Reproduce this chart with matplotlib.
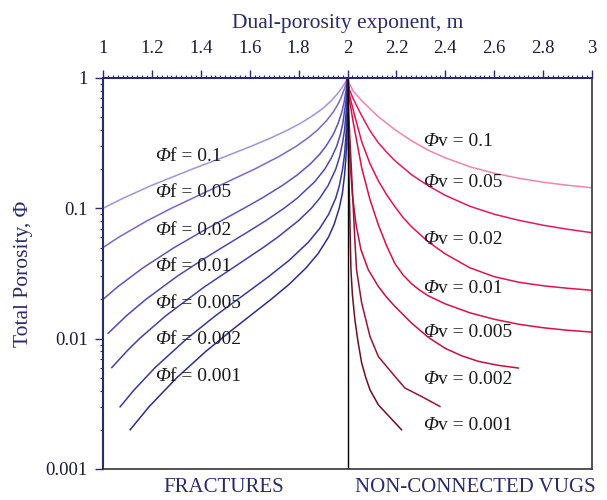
import matplotlib
matplotlib.use("Agg")
import matplotlib.pyplot as plt
from matplotlib.ticker import MultipleLocator, LogLocator, FixedLocator, FixedFormatter, NullFormatter
from matplotlib.transforms import offset_copy

plt.rcParams['font.family'] = ['Liberation Serif', 'DejaVu Serif']

# ------------------------------------------------------------------
# Data: (m, total porosity) along each curve
# ------------------------------------------------------------------
frac_labels = ["0.1", "0.05", "0.02", "0.01", "0.005", "0.002", "0.001"]
vug_labels = ["0.1", "0.05", "0.02", "0.01", "0.005", "0.002", "0.001"]

frac_m = [
    [1.0, 1.084, 1.199, 1.365, 1.50, 1.607, 1.691, 1.757, 1.808, 1.848, 1.880, 1.906,
     1.934, 1.957, 1.973, 1.987, 2.0],
    [1.0, 1.064, 1.179, 1.279, 1.478, 1.620, 1.720, 1.791, 1.841, 1.878, 1.914, 1.942,
     1.959, 1.973, 1.990, 2.0],
    [1.0, 1.060, 1.164, 1.291, 1.426, 1.576, 1.651, 1.734, 1.794, 1.849, 1.886, 1.912,
     1.942, 1.962, 1.977, 1.986, 1.996, 2.0],
    [1.021, 1.096, 1.175, 1.302, 1.404, 1.487, 1.587, 1.664, 1.740, 1.795, 1.866, 1.907,
     1.932, 1.956, 1.971, 1.981, 1.993, 2.0],
    [1.036, 1.097, 1.149, 1.257, 1.415, 1.578, 1.655, 1.714, 1.798, 1.852, 1.887, 1.921,
     1.952, 1.968, 1.980, 1.988, 1.996, 2.0],
    [1.070, 1.125, 1.213, 1.343, 1.460, 1.621, 1.678, 1.762, 1.840, 1.886, 1.923, 1.952,
     1.967, 1.980, 1.988, 1.993, 1.996, 1.998, 2.0],
    [1.111, 1.188, 1.301, 1.421, 1.536, 1.687, 1.760, 1.831, 1.880, 1.922, 1.945, 1.966,
     1.979, 1.988, 1.993, 1.996, 1.999, 2.0],
]
frac_phi = [
    [0.1, 0.12, 0.15, 0.2, 0.25, 0.3, 0.35, 0.4, 0.45, 0.5, 0.55, 0.6,
     0.67, 0.75, 0.82, 0.9, 1.0],
    [0.05, 0.06, 0.08, 0.1, 0.15, 0.2, 0.25, 0.3, 0.35, 0.4, 0.47, 0.55,
     0.62, 0.7, 0.85, 1.0],
    [0.02, 0.025, 0.035, 0.05, 0.07, 0.1, 0.12, 0.15, 0.18, 0.22, 0.26, 0.3,
     0.37, 0.45, 0.55, 0.65, 0.85, 1.0],
    [0.011, 0.015, 0.02, 0.03, 0.04, 0.05, 0.065, 0.08, 0.1, 0.12, 0.16, 0.2,
     0.24, 0.3, 0.37, 0.45, 0.65, 1.0],
    [0.006, 0.008, 0.01, 0.015, 0.025, 0.04, 0.05, 0.06, 0.08, 0.1, 0.12, 0.15,
     0.2, 0.25, 0.32, 0.4, 0.6, 1.0],
    [0.003, 0.004, 0.006, 0.01, 0.015, 0.025, 0.03, 0.04, 0.055, 0.07, 0.09, 0.12,
     0.15, 0.2, 0.26, 0.35, 0.45, 0.6, 1.0],
    [0.002, 0.003, 0.005, 0.008, 0.012, 0.02, 0.026, 0.035, 0.045, 0.06, 0.075, 0.1,
     0.13, 0.18, 0.24, 0.3, 0.5, 1.0],
]

vug_m = [
    [2.0, 2.008, 2.023, 2.058, 2.126, 2.194, 2.262, 2.330, 2.399, 2.5, 2.6, 2.7,
     2.8, 2.9, 3.0],
    [2.0, 2.008, 2.023, 2.058, 2.092, 2.126, 2.16, 2.194, 2.262, 2.330, 2.399, 2.5,
     2.6, 2.7, 2.8, 2.9, 3.0],
    [2.0, 2.008, 2.023, 2.058, 2.092, 2.126, 2.16, 2.194, 2.228, 2.262, 2.330, 2.399,
     2.5, 2.6, 2.7, 2.8, 2.9, 3.0],
    [2.0, 2.008, 2.023, 2.058, 2.092, 2.126, 2.16, 2.194, 2.228, 2.262, 2.296, 2.330,
     2.399, 2.5, 2.6, 2.7, 2.8, 2.9, 3.0],
    [2.0, 2.004, 2.010, 2.020, 2.035, 2.055, 2.085, 2.126, 2.16, 2.194, 2.262, 2.330,
     2.399, 2.467, 2.535, 2.615, 2.699],
    [2.0, 2.006, 2.018, 2.030, 2.037, 2.058, 2.092, 2.126, 2.194, 2.235, 2.303, 2.378],
    [2.0, 2.002, 2.008, 2.014, 2.020, 2.030, 2.043, 2.058, 2.075, 2.092, 2.126, 2.221],
]
vug_phi = [
    [1.0, 0.904, 0.795, 0.6695, 0.5047, 0.4012, 0.3302, 0.2792, 0.2445, 0.2086, 0.1859,
     0.1702, 0.1586, 0.1504, 0.1439],
    [1.0, 0.813, 0.6937, 0.5137, 0.394, 0.3187, 0.2695, 0.2319, 0.1811, 0.1491, 0.126,
     0.1038, 0.0901, 0.081, 0.0742, 0.0691, 0.065],
    [1.0, 0.7443, 0.571, 0.3245, 0.2199, 0.1628, 0.1272, 0.1029, 0.0847, 0.0722, 0.0554,
     0.0448, 0.035, 0.0299, 0.0271, 0.02547, 0.02436, 0.02351],
    [1.0, 0.6817, 0.462, 0.2049, 0.1164, 0.0748, 0.0516, 0.0376, 0.0307, 0.02638, 0.0235,
     0.02134, 0.01852, 0.0158, 0.01409, 0.0129, 0.01213, 0.0116, 0.01123],
    [1.0, 0.4381, 0.236, 0.1272, 0.0748, 0.0481, 0.0338, 0.02516, 0.02078, 0.01767, 0.01317,
     0.01025, 0.00844, 0.00739, 0.0067, 0.00625, 0.00595],
    [1.0, 0.4786, 0.1658, 0.0574, 0.0338, 0.01876, 0.0104, 0.0073, 0.00513, 0.00418, 0.0036,
     0.00302],
    [1.0, 0.401, 0.1164, 0.0338, 0.02187, 0.01406, 0.00947, 0.0065, 0.00501, 0.00405, 0.00311,
     0.0020],
]

frac_colors = ["#a193e2", "#7868d0", "#5d54c0", "#4e49b2", "#4440a6", "#39379a", "#2f2d8c"]
vug_colors = ["#f384ac", "#e8185c", "#e31350", "#dc0f48", "#c4103f", "#981433", "#6c0f22"]

navy = "#2b2a6b"

fig = plt.figure(figsize=(6.07, 5.0), dpi=100)
ax = fig.add_axes([103 / 607, 31 / 500, 489 / 607, 391 / 500])

for m, p, c in zip(frac_m, frac_phi, frac_colors):
    ax.plot(m, p, color=c, lw=1.1)
for m, p, c in zip(vug_m, vug_phi, vug_colors):
    ax.plot(m, p, color=c, lw=1.1)

ax.axvline(2.0, color="black", lw=1.0)

ax.set_yscale("log")
ax.set_xlim(1, 3)
ax.set_ylim(0.001, 1)

# top x axis
ax.xaxis.tick_top()
ax.xaxis.set_label_position("top")
ax.xaxis.set_major_locator(MultipleLocator(0.2))
ax.xaxis.set_minor_locator(MultipleLocator(0.02))
ax.xaxis.set_major_formatter(plt.FuncFormatter(lambda v, pos: f"{v:g}"))
ax.set_xlabel("Dual-porosity exponent, m", fontsize=15.5, color=navy, labelpad=9)

ax.yaxis.set_major_locator(FixedLocator([0.001, 0.01, 0.1, 1]))
ax.yaxis.set_major_formatter(FixedFormatter(["0.001", "0.01", "0.1", "1"]))
ax.yaxis.set_minor_locator(LogLocator(base=10, subs=range(2, 10)))
ax.yaxis.set_minor_formatter(NullFormatter())
ax.set_ylabel("Total Porosity, Φ", fontsize=15.5, color=navy, labelpad=9)

ax.tick_params(axis="both", which="major", direction="out", length=6, width=1.0,
               color=navy, labelsize=13.5, labelcolor="#1c1c3a")
ax.tick_params(axis="x", which="major", pad=9)
ax.tick_params(axis="y", which="major", pad=5)
ax.tick_params(axis="both", which="minor", direction="out", length=2.5, width=0.8, color=navy)

for side in ["left", "top"]:
    ax.spines[side].set_color(navy)
    ax.spines[side].set_linewidth(1.5)
for side in ["right", "bottom"]:
    ax.spines[side].set_color("#333333")
    ax.spines[side].set_linewidth(1.2)

# curve labels: italic Phi followed by upright text
renderer = fig.canvas.get_renderer()


def phi_label(x, y, rest):
    t = ax.text(x, y, "Φ", transform=ax.transAxes, fontsize=14, style="italic",
                va="center", ha="left", color="#1a1a1a")
    w = t.get_window_extent(renderer).width
    tr = offset_copy(ax.transAxes, fig=fig, x=w, y=0, units="dots")
    ax.text(x, y, rest, transform=tr, fontsize=14, va="center", ha="left", color="#1a1a1a")


frac_y = [0.798, 0.706, 0.610, 0.518, 0.424, 0.330, 0.236]
vug_y = [0.838, 0.733, 0.586, 0.4625, 0.349, 0.2296, 0.1108]
for lab, yy in zip(frac_labels, frac_y):
    phi_label(0.106, yy, f"f = {lab}")
for lab, yy in zip(vug_labels, vug_y):
    phi_label(0.655, yy, f"v = {lab}")

fig.text(224 / 607, 1 - 487 / 500, "FRACTURES", fontsize=15, color=navy,
         ha="center", va="center")
fig.text(475 / 607, 1 - 487 / 500, "NON-CONNECTED VUGS", fontsize=15, color=navy,
         ha="center", va="center")

fig.savefig("out.png", dpi=100)
